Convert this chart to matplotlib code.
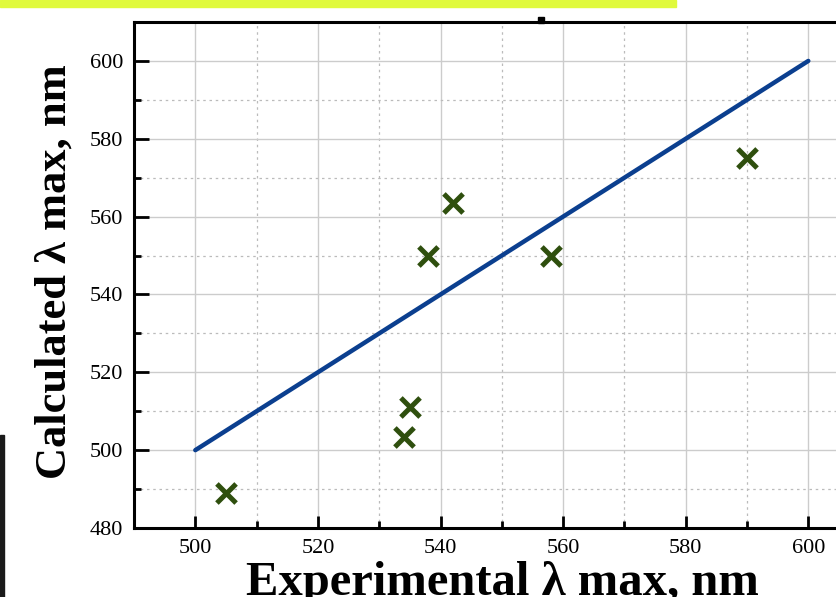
import numpy as np
import matplotlib
matplotlib.use("Agg")
from matplotlib import pyplot as plt
from matplotlib.patches import Rectangle
from matplotlib.ticker import MultipleLocator

# experimental vs calculated lambda max (nm)
exp_lmax = [505, 534, 535, 538, 542, 558, 590]
calc_lmax = [489, 503.5, 511, 550, 563.5, 550, 575]
ideal_line = [500, 600]

plt.rcParams['font.family'] = ['Liberation Serif', 'DejaVu Serif']

W, H = 837, 597
fig = plt.figure(figsize=(W / 100, H / 100), dpi=100)

# artifacts of the screenshot
fig.patches.append(Rectangle((0, 1 - 7 / H), 676 / W, 7 / H, transform=fig.transFigure,
                             color='#e0fa3c', zorder=0))
fig.patches.append(Rectangle((0, 0), 4 / W, 162 / H, transform=fig.transFigure,
                             color='#1a1a1a', zorder=0))
fig.patches.append(Rectangle((538 / W, 1 - 23 / H), 6 / W, 6 / H, transform=fig.transFigure,
                             color='black', zorder=0))

left, bottom, top = 134 / W, 1 - 528 / H, 1 - 22 / H
ax = fig.add_axes([left, bottom, 735.6 / W, top - bottom])

ax.plot(ideal_line, ideal_line, color='#0b3f8f', lw=3.2, solid_capstyle='round', zorder=3)
ax.scatter(exp_lmax, calc_lmax, marker='x', s=190, linewidths=3.6, color='#2f4f0e', zorder=4)

ax.set_xlim(490, 610)
ax.set_ylim(480, 610)
ax.xaxis.set_major_locator(MultipleLocator(20))
ax.xaxis.set_minor_locator(MultipleLocator(10))
ax.yaxis.set_major_locator(MultipleLocator(20))
ax.yaxis.set_minor_locator(MultipleLocator(10))

ax.grid(which='major', color='#cccccc', lw=1.0, ls='-')
ax.grid(which='minor', color='#bbbbbb', lw=0.9, ls=(0, (2, 3)))
ax.set_axisbelow(True)

ax.tick_params(which='major', direction='in', length=9, width=2, labelsize=16, pad=8)
ax.tick_params(which='minor', direction='in', length=5, width=2)
ax.tick_params(axis='y', which='major', length=11)
for s in ['left', 'bottom', 'top']:
    ax.spines[s].set_linewidth(2.2)
ax.spines['right'].set_visible(False)

fig.text(502 / W, 2 / H, 'Experimental λ max, nm', ha='center', va='baseline',
         fontsize=35, fontweight='bold')
fig.text(55 / W, 1 - 272 / H, 'Calculated λ max, nm', ha='center', va='center',
         rotation=90, fontsize=32, fontweight='bold')

fig.savefig('out.png', dpi=100)
